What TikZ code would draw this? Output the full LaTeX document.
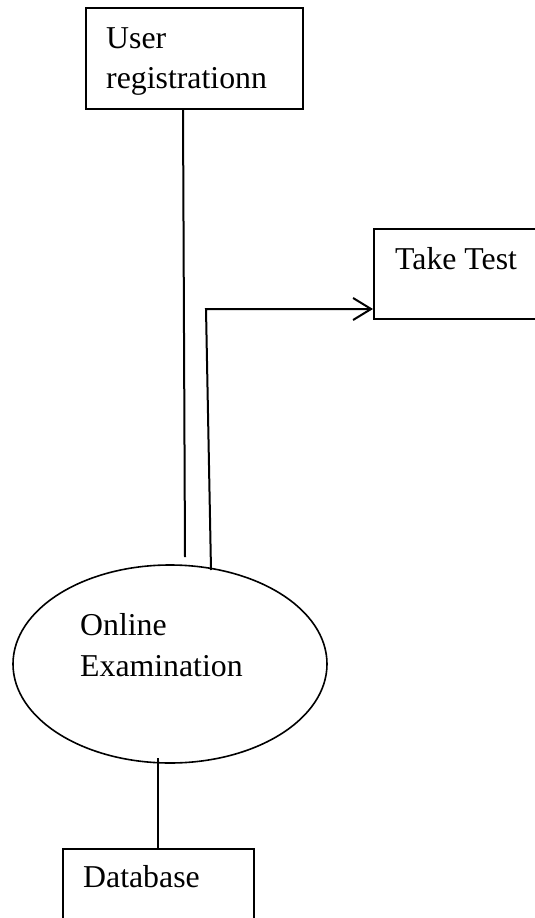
\documentclass[tikz,border=0pt]{standalone}
\usepackage{fontspec}
\setmainfont{Liberation Serif}
\usetikzlibrary{arrows.meta,shapes.geometric}
\begin{document}
\begin{tikzpicture}[x=1pt,y=-1pt,
  box/.style={draw,line width=2pt,rectangle,inner sep=0pt,anchor=north west},
  lbl/.style={anchor=base west,inner sep=0pt,font=\fontsize{31.8}{40}\selectfont},
  conn/.style={line width=2pt}]
\useasboundingbox (0,0) rectangle (535,918);
\clip (0,0) rectangle (535,918);
% boxes
\node[box,minimum width=217pt,minimum height=101pt] (user) at (85,7) {};
\node[box,minimum width=190pt,minimum height=90pt] (test) at (373,228) {};
\node[box,minimum width=191pt,minimum height=100pt] (db) at (62,848) {};
% process bubble
\node[draw,ellipse,line width=1.6pt,inner sep=0pt,
      minimum width=314pt,minimum height=198pt] (exam) at (170,664) {};
% texts
\node[lbl] (t1) at (106,48) {User};
\node[lbl] (t2) at (106,88) {registrationn};
\node[lbl] (t3) at (395,269) {Take Test};
\node[lbl] (t4) at (80,635) {Online};
\node[lbl] (t5) at (80,676) {Examination};
\node[lbl] (t6) at (83,887) {Database};
% connectors
\coordinate (uend) at (185,557);
\draw[conn] ([xshift=98pt]user.south west) -- (uend);
\coordinate (estart) at (211,570);
\coordinate (bend) at (206,309);
\draw[conn,-{Straight Barb[length=18pt,width=22pt,line width=2pt]}]
  (estart) -- (bend) -- (test.west |- bend);
\coordinate (dstart) at (158,758);
\draw[conn] (dstart) -- (db.north -| dstart);
\end{tikzpicture}
\end{document}
